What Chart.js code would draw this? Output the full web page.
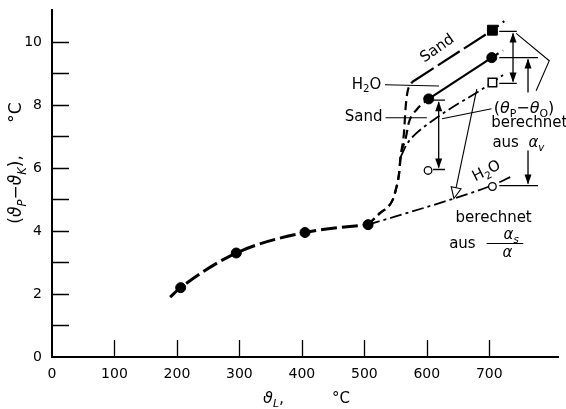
<!DOCTYPE html>
<html><head><meta charset="utf-8">
<script src="https://cdn.jsdelivr.net/npm/chart.js@4.4.1/dist/chart.umd.min.js"></script>
<style>html,body{margin:0;padding:0;background:#fff}#wrap{width:566px;height:409px}</style>
</head><body><div id="wrap"><canvas id="c" width="566" height="409"></canvas></div>
<script>
// ---- data ----
const xTickValues = [0, 100, 200, 300, 400, 500, 600, 700];
const yTickValues = [0, 2, 4, 6, 8, 10];
// measured curve below 500 °C
const baseX = [189, 206, 295, 405, 506];
const baseY = [1.9, 2.2, 3.3, 3.95, 4.2];
// measured, sand (filled square): curved rise, then straight line
const sandCurveX = [506, 524, 545, 550, 555.5, 558, 563.5, 566, 569, 576];
const sandCurveY = [4.2, 4.55, 4.97, 5.28, 5.81, 6.34, 7.13, 7.9, 8.4, 8.72];
const sandLineX = [576, 705, 724];
const sandLineY = [8.72, 10.37, 10.66];
// measured, H2O (filled circles): curved rise, then straight line
const h2oCurveX = [506, 524, 545, 550, 555.5, 558, 566, 571.4, 584.6, 603];
const h2oCurveY = [4.2, 4.55, 4.97, 5.28, 5.81, 6.34, 6.92, 7.45, 7.87, 8.19];
const h2oLineX = [603, 704, 722];
const h2oLineY = [8.19, 9.5, 9.73];
// calculated, sand (open square)
const calcSandX = [558, 568, 578, 609, 705, 722];
const calcSandY = [6.34, 6.75, 7.0, 7.5, 8.71, 8.95];
// calculated, H2O from alpha_s/alpha
const calcH2oX = [506, 642, 705, 738];
const calcH2oY = [4.2, 5.02, 5.45, 5.75];
// markers
const measCircX = [206, 295, 405, 506, 603, 704];
const measCircY = [2.2, 3.3, 3.95, 4.2, 8.19, 9.5];
const measSqX = [705];
const measSqY = [10.37];
const calcSqX = [705];
const calcSqY = [8.71];
const calcCircX = [602, 705];
const calcCircY = [5.92, 5.41];

const zip = (xs, ys) => xs.map((x, i) => ({x, y: ys[i]}));
const FONT = '"DejaVu Sans", sans-serif';
const fnt = (sz, it) => (it ? 'italic ' : '') + sz + 'px ' + FONT;

function drawRich(ctx, parts, x, y, size, align) {
  const items = parts.map(([t, k]) => {
    const sub = k.includes('s'), it = k.includes('i');
    const sz = sub ? size * 0.68 : size;
    ctx.font = fnt(sz, it);
    return {t, sz, it, sub, w: ctx.measureText(t).width};
  });
  const total = items.reduce((a, b) => a + b.w, 0);
  let cx = align === 'left' ? x : align === 'right' ? x - total : x - total / 2;
  ctx.textAlign = 'left'; ctx.textBaseline = 'middle';
  for (const o of items) {
    ctx.font = fnt(o.sz, o.it);
    ctx.fillText(o.t, cx, y + (o.sub ? size * 0.33 : 0));
    cx += o.w;
  }
}

// annotation layout (data units)
const notes = [
  {parts: [['Sand', '']], x: 617, y: 9.78, rot: -35, size: 15, align: 'center'},
  {parts: [['H', ''], ['2', 's'], ['O', '']], x: 527, y: 8.64, size: 15, align: 'right'},
  {parts: [['Sand', '']], x: 529, y: 7.6, size: 15, align: 'right'},
  {parts: [['(', ''], ['θ', 'i'], ['P', 's'], ['−', ''], ['θ', 'i'], ['O', 's'], [')', '']], x: 707, y: 7.88, size: 16, align: 'left'},
  {parts: [['berechnet', '']], x: 703, y: 7.42, size: 15, align: 'left'},
  {parts: [['aus  ', ''], ['α', 'i'], ['v', 'si']], x: 705, y: 6.78, size: 15, align: 'left'},
  {parts: [['H', ''], ['2', 's'], ['O', '']], x: 695.7, y: 5.89, rot: -27, size: 15, align: 'center'},
  {parts: [['berechnet', '']], x: 707, y: 4.41, size: 15, align: 'center'},
  {parts: [['aus', '']], x: 657, y: 3.58, size: 15, align: 'center'},
  {parts: [['α', 'i'], ['s', 'si']], x: 735, y: 3.86, size: 15, align: 'center'},
  {parts: [['α', 'i']], x: 729, y: 3.31, size: 15, align: 'center'}
];
const leaders = [
  [[533, 8.64], [619.5, 8.6]],
  [[534, 7.59], [600, 7.59]],
  [[743, 10.27], [796, 9.4], [775, 8.45]],
  [[624.3, 7.56], [703.6, 7.88]],
  [[695.7, 3.6], [754.4, 3.6]]
];
// dimension arrows
const dims = [
  {x: 619, top: 8.15, bot: 5.95, b1: 610, b2: 629},
  {x: 738, top: 10.33, bot: 8.68, b1: 716, b2: 744},
  {x: 762, top: 9.5, bot: 5.44, b1: 716, b2: 778, gapTop: 8.39, gapBot: 6.55}
];
const pointer = {from: [680, 8.5], to: [643.3, 5.03]};

const annot = {
  id: 'annot',
  afterDatasetsDraw(chart) {
    const {ctx, scales: {x: sx, y: sy}} = chart;
    const X = v => sx.getPixelForValue(v), Y = v => sy.getPixelForValue(v);
    ctx.save();
    ctx.fillStyle = '#000'; ctx.strokeStyle = '#000';
    ctx.lineWidth = 1.1; ctx.setLineDash([]);
    for (const l of leaders) {
      ctx.beginPath();
      l.forEach(([a, b], i) => i ? ctx.lineTo(X(a), Y(b)) : ctx.moveTo(X(a), Y(b)));
      ctx.stroke();
    }
    const head = (x, tip, dir) => {
      ctx.beginPath();
      ctx.moveTo(x, tip); ctx.lineTo(x - 3.5, tip + dir * 10); ctx.lineTo(x + 3.5, tip + dir * 10);
      ctx.closePath(); ctx.fill();
    };
    for (const d of dims) {
      const x = X(d.x), yt = Y(d.top), yb = Y(d.bot);
      ctx.lineWidth = 1.3;
      ctx.beginPath();
      ctx.moveTo(X(d.b1), yt); ctx.lineTo(X(d.b2), yt);
      ctx.moveTo(X(d.b1), yb); ctx.lineTo(X(d.b2), yb);
      if (d.gapTop !== undefined) {
        ctx.moveTo(x, yt + 2); ctx.lineTo(x, Y(d.gapTop));
        ctx.moveTo(x, Y(d.gapBot)); ctx.lineTo(x, yb - 2);
      } else {
        ctx.moveTo(x, yt + 2); ctx.lineTo(x, yb - 2);
      }
      ctx.stroke();
      head(x, yt + 1, 1);
      head(x, yb - 1, -1);
    }
    {
      const x1 = X(pointer.from[0]), y1 = Y(pointer.from[1]);
      const x2 = X(pointer.to[0]), y2 = Y(pointer.to[1]);
      const ang = Math.atan2(y2 - y1, x2 - x1);
      const L = 11, W = 5;
      const bx = x2 - Math.cos(ang) * L, by = y2 - Math.sin(ang) * L;
      ctx.lineWidth = 1.1;
      ctx.beginPath(); ctx.moveTo(x1, y1); ctx.lineTo(bx, by); ctx.stroke();
      ctx.beginPath();
      ctx.moveTo(x2, y2);
      ctx.lineTo(bx + Math.sin(ang) * W, by - Math.cos(ang) * W);
      ctx.lineTo(bx - Math.sin(ang) * W, by + Math.cos(ang) * W);
      ctx.closePath();
      ctx.fillStyle = '#fff'; ctx.fill(); ctx.stroke();
      ctx.fillStyle = '#000';
    }
    for (const n of notes) {
      ctx.save();
      ctx.translate(X(n.x), Y(n.y));
      if (n.rot) ctx.rotate(n.rot * Math.PI / 180);
      drawRich(ctx, n.parts, 0, 0, n.size, n.align);
      ctx.restore();
    }
    ctx.restore();
  },
  afterDraw(chart) {
    const {ctx, scales: {x: sx, y: sy}} = chart;
    ctx.save();
    ctx.strokeStyle = '#000'; ctx.fillStyle = '#000'; ctx.lineWidth = 1.3;
    ctx.beginPath();
    for (const t of sy.ticks) {
      if (t.value <= 0 || t.value > 10) continue;
      const p = Math.round(sy.getPixelForValue(t.value)) + 0.5;
      ctx.moveTo(sx.left, p); ctx.lineTo(sx.left + 17, p);
    }
    for (const t of sx.ticks) {
      if (t.value <= 0 || t.value > 700) continue;
      const p = Math.round(sx.getPixelForValue(t.value)) + 0.5;
      ctx.moveTo(p, sy.bottom); ctx.lineTo(p, sy.bottom - 17);
    }
    ctx.stroke();
    ctx.save();
    ctx.translate(17, 163);
    ctx.rotate(-Math.PI / 2);
    drawRich(ctx, [['(', ''], ['ϑ', 'i'], ['P', 'si'], ['−', ''], ['ϑ', 'i'], ['K', 'si'], ['),', ''], ['      °C', '']], 0, 0, 17, 'center');
    ctx.restore();
    drawRich(ctx, [['ϑ', 'i'], ['L', 'si'], [',', '']], 263, 399, 16, 'left');
    drawRich(ctx, [['°C', '']], 332, 399, 15, 'left');
    ctx.restore();
  }
};

Chart.defaults.font.family = FONT;
Chart.defaults.color = '#000';

const lineDs = (xs, ys, extra) => Object.assign({data: zip(xs, ys), borderColor: '#000', pointRadius: 0}, extra);

new Chart(document.getElementById('c'), {
  type: 'line',
  data: {
    datasets: [
      {data: zip(measSqX, measSqY), showLine: false, pointStyle: 'rect', pointRadius: 7, backgroundColor: '#000', borderColor: '#000'},
      {data: zip(calcSqX, calcSqY), showLine: false, pointStyle: 'rect', pointRadius: 6, backgroundColor: '#fff', borderColor: '#000', pointBorderWidth: 1.5},
      {data: zip(measCircX, measCircY), showLine: false, pointStyle: 'circle', pointRadius: 5, backgroundColor: '#000', borderColor: '#000'},
      {data: zip(calcCircX, calcCircY), showLine: false, pointStyle: 'circle', pointRadius: 3.8, backgroundColor: '#fff', borderColor: '#000', pointBorderWidth: 1.3},
      lineDs(baseX, baseY, {borderWidth: 3, borderDash: [16, 5], cubicInterpolationMode: 'monotone'}),
      lineDs(sandCurveX, sandCurveY, {borderWidth: 2.2, borderDash: [9, 5], cubicInterpolationMode: 'monotone'}),
      lineDs(sandLineX, sandLineY, {borderWidth: 2.2, tension: 0, segment: {borderDash: c => c.p0DataIndex === 0 ? [26, 5] : [8, 5]}}),
      lineDs(h2oCurveX, h2oCurveY, {borderWidth: 2.2, borderDash: [9, 5], cubicInterpolationMode: 'monotone'}),
      lineDs(h2oLineX, h2oLineY, {borderWidth: 2.2, tension: 0, segment: {borderDash: c => c.p0DataIndex === 0 ? [] : [8, 5]}}),
      lineDs(calcSandX, calcSandY, {borderWidth: 1.8, borderDash: [12, 4, 3, 4], cubicInterpolationMode: 'monotone'}),
      lineDs(calcH2oX, calcH2oY, {borderWidth: 1.8, borderDash: [12, 4, 3, 4], cubicInterpolationMode: 'monotone'})
    ]
  },
  options: {
    responsive: false, animation: false,
    layout: {padding: {left: 0, right: 4, top: 0, bottom: 0}},
    plugins: {legend: {display: false}, tooltip: {enabled: false}},
    scales: {
      x: {type: 'linear', min: 0, max: 810,
        grid: {display: false, drawTicks: false},
        border: {display: true, color: '#000', width: 2},
        afterBuildTicks: s => { s.ticks = xTickValues.map(v => ({value: v})); },
        ticks: {padding: 9, maxRotation: 0, autoSkip: false, font: {size: 14},
          callback: v => String(v)},
        afterFit: s => { s.height = 52; }},
      y: {type: 'linear', min: 0, max: 11,
        grid: {display: false, drawTicks: false},
        border: {display: true, color: '#000', width: 2},
        ticks: {stepSize: 1, padding: 10, autoSkip: false, font: {size: 14, lineHeight: 0.05},
          callback: v => yTickValues.includes(v) ? String(v) : ''},
        afterFit: s => { s.width = 52; }}
    }
  },
  plugins: [annot]
});
</script></body></html>
